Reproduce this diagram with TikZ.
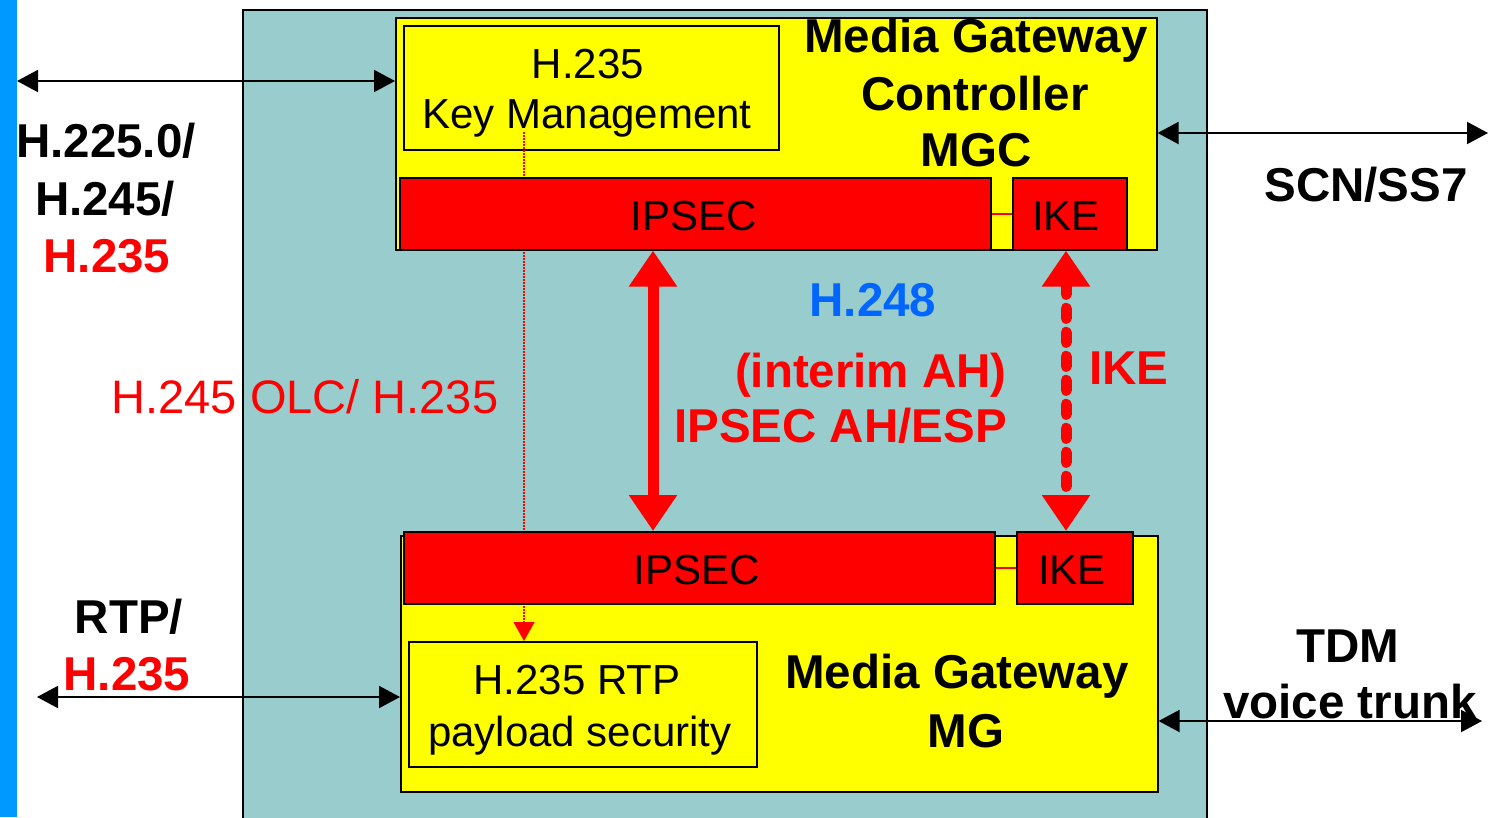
\documentclass[tikz,border=0pt]{standalone}
\usepackage{fontspec}
\setmainfont{Liberation Sans}
\usetikzlibrary{arrows.meta}
\definecolor{paneltea}{RGB}{153,204,204}
\definecolor{barblue}{RGB}{0,153,255}
\definecolor{protoblue}{RGB}{0,102,255}
\definecolor{gwyellow}{RGB}{255,255,0}
\definecolor{secred}{RGB}{255,0,0}
\newcommand\boldlbl{\fontsize{47.5}{57}\selectfont\bfseries}
\newcommand\plainlbl{\fontsize{42}{50}\selectfont}
\newcommand\olclbl{\fontsize{47}{56}\selectfont}
\begin{document}
\begin{tikzpicture}[x=1pt,y=-1pt,
  box/.style={draw=black, line width=1.6pt, inner sep=0pt, anchor=north west, rectangle},
  txt/.style={inner sep=0pt, anchor=base},
  bl/.style={txt, font=\boldlbl},
  rg/.style={txt, font=\plainlbl},
  blackarrow/.style={{Triangle[length=21pt,width=22pt]}-{Triangle[length=21pt,width=22pt]}, line width=2pt},
  bigred/.style={secred, line width=11pt, {Triangle[length=36pt,width=46pt]}-{Triangle[length=36pt,width=46pt]}},
  ikearrow/.style={bigred, line cap=round, dash pattern=on 10pt off 14pt},
  dotlink/.style={secred, line width=1.3pt, dash pattern=on 1.5pt off 1.5pt, -{Triangle[length=19pt,width=21pt]}},
  thinlink/.style={secred, line width=2pt}]

\useasboundingbox (0,0) rectangle (1490,817);
\fill[white] (0,0) rectangle (1490,817);
\fill[barblue] (0,0) rectangle (17,817);

% network element frame
\node[box, fill=paneltea, minimum width=964pt, minimum height=830pt] (frame) at (242,9) {};

% gateway controller and gateway
\node[box, fill=gwyellow, minimum width=761pt, minimum height=232pt] (mgc) at (395,17) {};
\node[box, fill=gwyellow, minimum width=757pt, minimum height=256pt] (mg) at (400,535) {};
\node[box, fill=gwyellow, minimum width=375pt, minimum height=124pt] (km) at (403,25) {};
\node[box, fill=gwyellow, minimum width=348pt, minimum height=125pt] (rtp) at (408,641) {};

% key distribution from key management to payload security
\coordinate (dx) at (524,132);
\draw[dotlink] (dx) -- (rtp.north -| dx);

% security layers
\node[box, fill=secred, minimum width=591pt, minimum height=72pt] (ipsecA) at (399,177) {};
\node[box, fill=secred, minimum width=114pt, minimum height=72pt] (ikeA) at (1012,177) {};
\node[box, fill=secred, minimum width=591pt, minimum height=72pt] (ipsecB) at (403,531) {};
\node[box, fill=secred, minimum width=116pt, minimum height=72pt] (ikeB) at (1016,531) {};
\draw[thinlink] (ipsecA.east) -- (ikeA.west);
\draw[thinlink] (ipsecB.east) -- (ikeB.west);

% H.248 over IPSEC, and IKE exchange
\coordinate (ax) at (653,0);
\coordinate (kx) at (1066,0);
\draw[bigred] (ipsecA.south -| ax) -- (ipsecB.north -| ax);
\draw[ikearrow] (ikeA.south -| kx) -- (ikeB.north -| kx);

% external interfaces
\coordinate (lt) at (17,81);
\coordinate (rt) at (1488,133);
\coordinate (lb) at (37,697);
\coordinate (rb) at (1482,721);
\draw[blackarrow] (lt) -- (lt -| mgc.west);
\draw[blackarrow] (rt -| mgc.east) -- (rt);
\draw[blackarrow] (lb) -- (lb -| mg.west);
\draw[blackarrow] (rb -| mg.east) -- (rb);

% box texts
\node[rg] (kmA) at (588,78) {H.235};
\node[rg] (kmB) at (587,128) {Key Management};
\node[rg] (ipA) at (694,230) {IPSEC};
\node[rg] (ikA) at (1066,230) {IKE};
\node[rg] (ipB) at (697,584) {IPSEC};
\node[rg] (ikB) at (1072,584) {IKE};
\node[rg] (rtpA) at (577,694) {H.235 RTP};
\node[rg] (rtpB) at (580,746) {payload security};

\node[bl] (mgcA) at (976,52) {Media Gateway};
\node[bl] (mgcB) at (975,110) {Controller};
\node[bl] (mgcC) at (976,166) {MGC};
\node[bl] (mgA) at (957,688) {Media Gateway};
\node[bl] (mgB) at (966,747) {MG};

% interface labels
\node[bl] (sigA) at (106,157) {H.225.0/};
\node[bl] (sigB) at (105,215) {H.245/};
\node[bl, text=secred] (sigC) at (107,272) {H.235};
\node[bl] (medA) at (129,633) {RTP/};
\node[bl, text=secred] (medB) at (127,690) {H.235};
\node[bl] (scn) at (1366,201) {SCN/SS7};
\node[bl] (tdmA) at (1348,662) {TDM};
\node[bl] (tdmB) at (1350,718) {voice trunk};

% protocol labels between controller and gateway
\node[bl, text=protoblue] (h248) at (873,316) {H.248};
\node[bl, text=secred, anchor=base east] (ahA) at (1007,387) {(interim AH)};
\node[bl, text=secred, anchor=base east] (ahB) at (1007,442) {IPSEC AH/ESP};
\node[bl, text=secred, anchor=base west] (ikel) at (1089,384) {IKE};
\node[txt, font=\olclbl, text=secred] (olc) at (305,413) {H.245 OLC/ H.235};

\end{tikzpicture}
\end{document}
